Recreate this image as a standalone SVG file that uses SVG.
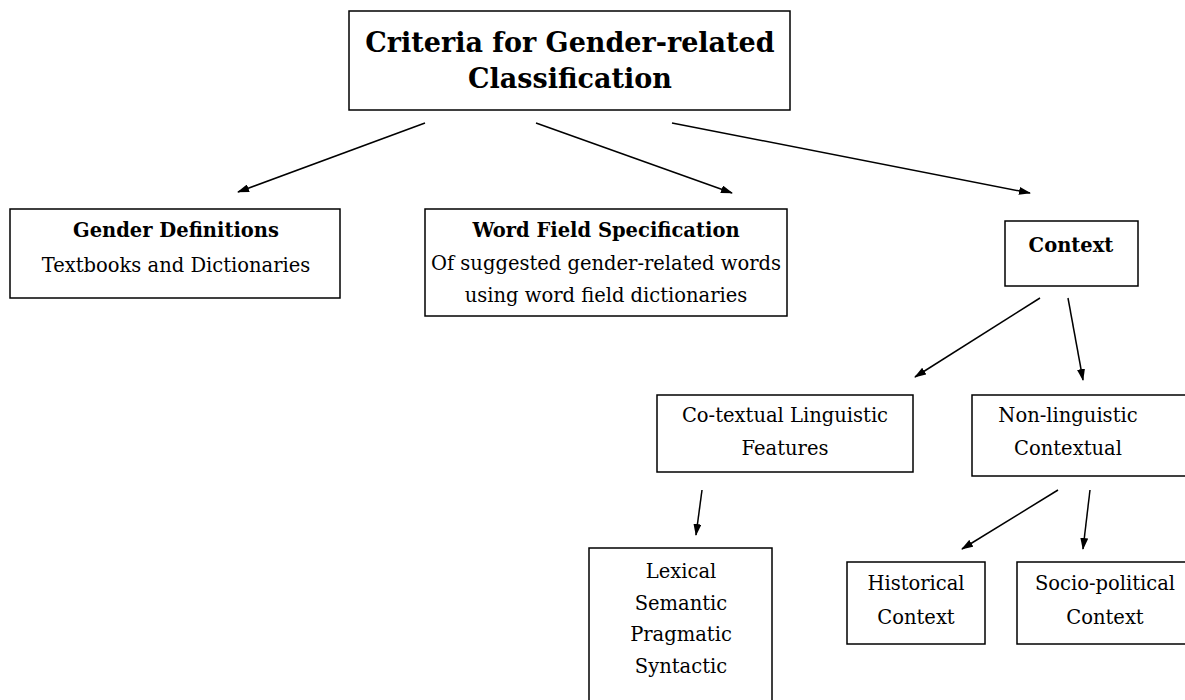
<svg xmlns="http://www.w3.org/2000/svg" width="1185" height="700" viewBox="0 0 1185 700">
  <style>
    .box { fill: #ffffff; stroke: #000000; stroke-width: 1.5; }
    .t { font-family: "DejaVu Serif", "Liberation Serif", serif; font-size: 19.5px; fill: #000000; text-anchor: middle; }
    .b { font-weight: bold; }
    .title { font-family: "DejaVu Serif", "Liberation Serif", serif; font-size: 27px; font-weight: bold; fill: #000000; text-anchor: middle; }
    .edge { stroke: #000000; stroke-width: 1.5; fill: none; marker-end: url(#head); }
  </style>
  <defs>
    <marker id="head" viewBox="0 0 12 8" refX="11" refY="4" markerWidth="12" markerHeight="8" markerUnits="userSpaceOnUse" orient="auto">
      <path d="M0,0 L12,4 L0,8 Z" fill="#000000"/>
    </marker>
  </defs>
  <rect width="1185" height="700" fill="#ffffff"/>

  <g id="connectors">
    <line class="edge" x1="425" y1="123" x2="238" y2="192"/>
    <line class="edge" x1="536" y1="123" x2="732" y2="193"/>
    <line class="edge" x1="672" y1="123" x2="1030" y2="193"/>
    <line class="edge" x1="1040" y1="298" x2="915" y2="377"/>
    <line class="edge" x1="1068" y1="298" x2="1083" y2="380"/>
    <line class="edge" x1="702" y1="490" x2="696" y2="535"/>
    <line class="edge" x1="1058" y1="490" x2="962" y2="549"/>
    <line class="edge" x1="1090" y1="490" x2="1083" y2="549"/>
  </g>

  <g id="criteria">
    <rect class="box" x="349" y="11" width="441" height="99"/>
    <text class="title" x="570" y="52">Criteria for Gender-related</text>
    <text class="title" x="570" y="88">Classification</text>
  </g>

  <g id="gender-definitions">
    <rect class="box" x="10" y="209" width="330" height="89"/>
    <text class="t b" x="176" y="237">Gender Definitions</text>
    <text class="t" x="176" y="272">Textbooks and Dictionaries</text>
  </g>

  <g id="word-field">
    <rect class="box" x="425" y="209" width="362" height="107"/>
    <text class="t b" x="606" y="237">Word Field Specification</text>
    <text class="t" x="606" y="270">Of suggested gender-related words</text>
    <text class="t" x="606" y="302">using word field dictionaries</text>
  </g>

  <g id="context">
    <rect class="box" x="1005" y="221" width="133" height="65"/>
    <text class="t b" x="1071" y="252">Context</text>
  </g>

  <g id="co-textual">
    <rect class="box" x="657" y="395" width="256" height="77"/>
    <text class="t" x="785" y="422">Co-textual Linguistic</text>
    <text class="t" x="785" y="455">Features</text>
  </g>

  <g id="non-linguistic">
    <rect class="box" x="972" y="395" width="220" height="81"/>
    <text class="t" x="1068" y="422">Non-linguistic</text>
    <text class="t" x="1068" y="455">Contextual</text>
  </g>

  <g id="lexical">
    <rect class="box" x="589" y="548" width="183" height="160"/>
    <text class="t" x="681" y="578">Lexical</text>
    <text class="t" x="681" y="610">Semantic</text>
    <text class="t" x="681" y="641">Pragmatic</text>
    <text class="t" x="681" y="673">Syntactic</text>
  </g>

  <g id="historical">
    <rect class="box" x="847" y="562" width="138" height="82"/>
    <text class="t" x="916" y="590">Historical</text>
    <text class="t" x="916" y="624">Context</text>
  </g>

  <g id="socio-political">
    <rect class="box" x="1017" y="562" width="175" height="82"/>
    <text class="t" x="1105" y="590">Socio-political</text>
    <text class="t" x="1105" y="624">Context</text>
  </g>
</svg>
